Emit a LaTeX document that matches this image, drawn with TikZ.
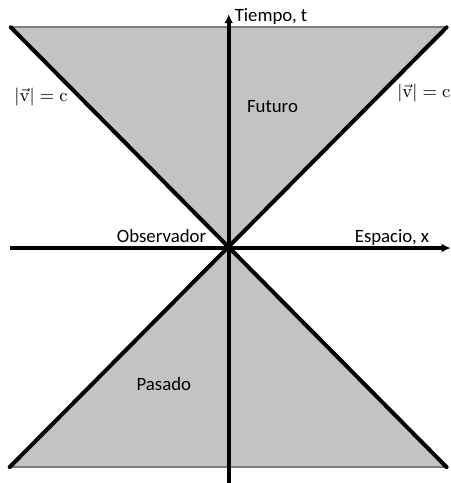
\documentclass[tikz,border=0pt]{standalone}
\usepackage[no-math]{fontspec}
\setmainfont{Carlito}
\usetikzlibrary{arrows.meta}
\definecolor{conegray}{RGB}{195,195,195}
\definecolor{edgegray}{RGB}{125,125,125}
\begin{document}
\begin{tikzpicture}[font=\fontsize{9.4}{11}\selectfont,
		cone/.style={fill=conegray, draw=none},
		rim/.style={draw=edgegray, line width=1pt},
		light/.style={line width=2pt, line cap=round},
		axis/.style={line width=2pt, -{Latex[length=4.5pt,width=4.5pt]}}]
		\useasboundingbox (-4.02, -4.13) rectangle (3.90, 4.36);
		
		\coordinate (O) at (0, 0);
		\coordinate (TL) at (-3.83, 3.88);
		\coordinate (TR) at (3.83, 3.88);
		\coordinate (BL) at (-3.85, -3.85);
		\coordinate (BR) at (3.83, -3.85);
		
		\fill[cone] (TL) -- (TR) -- (O) -- cycle;
		\fill[cone] (BL) -- (BR) -- (O) -- cycle;
		\draw[rim] (TL) -- (TR);
		\draw[rim] (BL) -- (BR);
		
		\draw[light] (TL) -- (BR);
		\draw[light] (TR) -- (BL);
		
		\coordinate (xl) at (-3.85, 0);
		\coordinate (xr) at (3.90, 0);
		\coordinate (tb) at (0, -4.13);
		\coordinate (tt) at (0, 4.11);
		\draw[axis] (xl) -- (xr);
		\draw[axis] (tb) -- (tt);
		
		\node[anchor=base west, inner sep=0pt] (tiempo) at (0.10, 3.98) {Tiempo, t};
		\node[anchor=base west, inner sep=0pt] (espacio) at (2.21, 0.09) {Espacio, x};
		\node[anchor=base east, inner sep=0pt] (obs) at (-0.39, 0.09) {Observador};
		\node (futuro) at (0.77, 2.48) {Futuro};
		\node (pasado) at (-1.14, -2.39) {Pasado};
		\node (luzL) at (-3.30, 2.65) {$|\vec{\mathrm{v}}| = \mathrm{c}$};
		\node (luzR) at (3.43, 2.72) {$|\vec{\mathrm{v}}| = \mathrm{c}$};
	\end{tikzpicture}
\end{document}
